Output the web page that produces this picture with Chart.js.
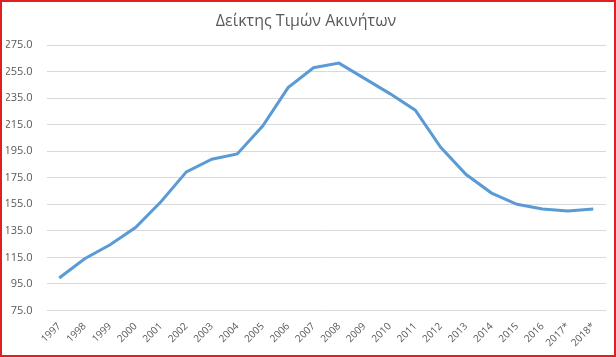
<!DOCTYPE html>
<html>
<head>
<meta charset="utf-8">
<script src="https://cdn.jsdelivr.net/npm/chart.js@4"></script>
<style>
    html, body { margin: 0; padding: 0; background: #fff; }
    #box {
        position: absolute; left: 0; top: 0;
        width: 612px; height: 353px;
        border: 2px solid #e02020;
        background: #fff;
    }
    #wrap { position: absolute; left: 0; top: 0; width: 612px; height: 353px; }
</style>
</head>
<body>
<div id="box"><div id="wrap"><canvas id="priceIndexChart"></canvas></div></div>
<script>
// Δείκτης Τιμών Ακινήτων
const years = ['1997', '1998', '1999', '2000', '2001', '2002', '2003', '2004', '2005', '2006', '2007',
    '2008', '2009', '2010', '2011', '2012', '2013', '2014', '2015', '2016', '2017*', '2018*'];
const indexValues = [99.5, 114.0, 124.5, 137.5, 157.0, 179.5, 189.0, 193.0, 214.0, 243.0, 258.0,
    261.5, 250.0, 238.5, 226.0, 198.0, 177.5, 163.5, 155.0, 151.5, 150.0, 151.5];
const yTicks = [75, 95, 115, 135, 155, 175, 195, 215, 235, 255, 275];

function renderPriceIndexChart() {
    const ctx = document.getElementById('priceIndexChart').getContext('2d');
    Chart.defaults.font.family = "'Open Sans', 'Noto Sans', sans-serif";
    Chart.defaults.color = '#595959';

    new Chart(ctx, {
        type: 'line',
        data: {
            labels: years,
            datasets: [{
                label: 'Δείκτης',
                data: indexValues,
                borderColor: '#5B9BD5',
                borderWidth: 3,
                pointRadius: 0,
                tension: 0,
                fill: false
            }]
        },
        options: {
            responsive: true,
            maintainAspectRatio: false,
            animation: false,
            layout: { padding: { left: 4, right: 8, top: 5, bottom: 4 } },
            plugins: {
                legend: { display: false },
                tooltip: { enabled: false },
                title: {
                    display: true,
                    text: 'Δείκτης Τιμών Ακινήτων',
                    color: '#595959',
                    font: { size: 16, weight: 'normal' },
                    padding: { top: 5, bottom: 14 }
                }
            },
            scales: {
                x: {
                    offset: true,
                    grid: { display: false },
                    border: { display: false },
                    ticks: {
                        minRotation: 45,
                        maxRotation: 45,
                        autoSkip: false,
                        font: { size: 10 },
                        padding: 2
                    }
                },
                y: {
                    min: 75,
                    max: 275,
                    afterBuildTicks: axis => { axis.ticks = yTicks.map(v => ({ value: v })); },
                    afterFit: axis => { axis.width = 40.5; },
                    grid: { color: '#D9D9D9', drawTicks: false, tickLength: 0, lineWidth: 1 },
                    border: { display: false },
                    ticks: {
                        font: { size: 11 },
                        padding: 14,
                        callback: v => Number(v).toFixed(1)
                    }
                }
            }
        }
    });
}

document.addEventListener("DOMContentLoaded", () => {
    renderPriceIndexChart();
});
</script>
</body>
</html>
